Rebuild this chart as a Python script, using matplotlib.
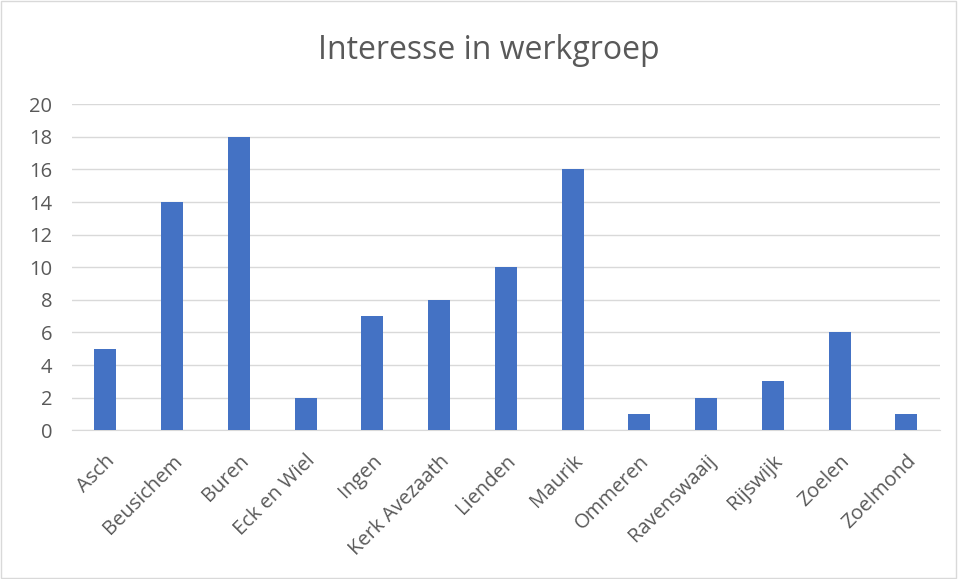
import matplotlib
matplotlib.use("Agg")
import matplotlib.pyplot as plt
from matplotlib.patches import Rectangle

categories = ["Asch", "Beusichem", "Buren", "Eck en Wiel", "Ingen", "Kerk Avezaath",
              "Lienden", "Maurik", "Ommeren", "Ravenswaaij", "Rijswijk", "Zoelen", "Zoelmond"]
values = [5, 14, 18, 2, 7, 8, 10, 16, 1, 2, 3, 6, 1]
yticks = [0, 2, 4, 6, 8, 10, 12, 14, 16, 18, 20]

plt.rcParams['font.family'] = ['Open Sans', 'DejaVu Sans']
txt = "#595959"

fig = plt.figure(figsize=(9.58, 5.79), dpi=100)
fig.patches.append(Rectangle((0.001, 0.002), 0.997, 0.996, transform=fig.transFigure,
                             fill=False, edgecolor="#d9d9d9", linewidth=1))
ax = fig.add_axes([0.075, 0.257, 0.906, 0.563])
x = range(len(categories))
ax.bar(x, values, width=0.33, color="#4472C4", zorder=3)
ax.set_xlim(-0.5, len(categories) - 0.5)
ax.set_ylim(0, 20)
ax.set_yticks(yticks)
ax.set_yticklabels([str(v) for v in yticks], fontsize=14.5, color=txt)
ax.set_xticks(list(x))
ax.set_xticklabels(categories, rotation=45, ha="right", rotation_mode="anchor",
                   fontsize=14.5, color=txt)
ax.grid(axis="y", color="#d9d9d9", linewidth=1, zorder=0)
for s in ["top", "right", "left"]:
    ax.spines[s].set_visible(False)
ax.spines["bottom"].set_color("#d9d9d9")
ax.tick_params(axis="y", length=0, pad=14)
ax.tick_params(axis="x", length=0, pad=15)
fig.text(0.51, 0.913, "Interesse in werkgroep", ha="center", va="center",
         fontsize=23, color=txt)
fig.savefig("out.png", dpi=100)
